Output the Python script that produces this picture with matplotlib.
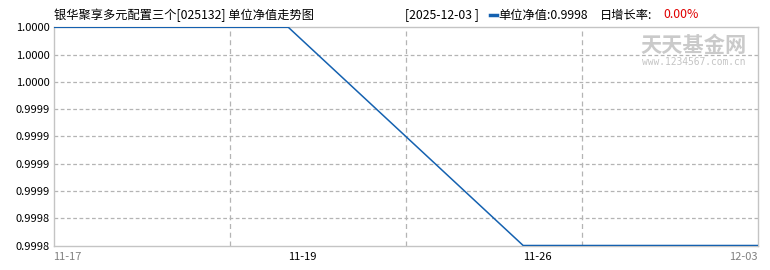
#!/usr/bin/env python3
import matplotlib
matplotlib.use("Agg")
import matplotlib.pyplot as plt
from matplotlib.lines import Line2D

plt.rcParams["font.family"] = ["Noto Sans CJK SC", "DejaVu Sans"]

# data
dates = ["11-17", "11-19", "11-26", "12-03"]
nav = [1.0000, 1.0000, 0.9998, 0.9998]
y_ticks = [0.9998, 0.999825, 0.99985, 0.999875, 0.9999, 0.999925, 0.99995, 0.999975, 1.0000]
y_tick_labels = ["0.9998", "0.9998", "0.9999", "0.9999", "0.9999", "0.9999", "1.0000", "1.0000", "1.0000"]
title = "银华聚享多元配置三个[025132] 单位净值走势图"
last_date = "[2025-12-03 ]"
last_nav = "0.9998"
last_growth = "0.00%"

W, H = 770, 270
BLUE = "#1461b0"
GRID = "#b4b4b4"
SPINE = "#c4c4c4"


def fx(px):
    return px / W


def fy(py):
    return 1 - py / H


fig = plt.figure(figsize=(W / 100, H / 100), dpi=100)
ax = fig.add_axes([fx(53.5), fy(245.5), fx(758) - fx(53.5), fy(27.3) - fy(245.5)])

x = list(range(len(dates)))
ax.plot(x, nav, color=BLUE, lw=1.1, zorder=3, solid_capstyle="butt")

ax.set_xlim(0, len(dates) - 1)
ax.set_ylim(y_ticks[0], y_ticks[-1])

# horizontal grid
for v in y_ticks[1:-1]:
    ax.axhline(v, color=GRID, lw=0.9, ls=(0, (3, 2)), zorder=1)
# vertical grid at quarters
for q in (0.25, 0.5, 0.75):
    ax.axvline(q * (len(dates) - 1), color=GRID, lw=0.9, ls=(0, (4, 3)), zorder=1)

for s in ax.spines.values():
    s.set_color(SPINE)
    s.set_linewidth(1.0)

ax.set_yticks(y_ticks)
ax.set_yticklabels(y_tick_labels, fontsize=8)
ax.tick_params(axis="y", length=0, pad=3)

ax.set_xticks(x)
ax.set_xticklabels(dates, fontsize=8)
ax.tick_params(axis="x", length=0, pad=5)
labels = ax.get_xticklabels()
for i, lab in enumerate(labels):
    if i == len(labels) - 1:
        lab.set_ha("right")
    else:
        lab.set_ha("left")
    lab.set_color("#808080" if i in (0, len(labels) - 1) else "black")

# watermark
ax.text(fx(694), fy(46), "天天基金网", transform=fig.transFigure, ha="center", va="center",
        fontsize=15.3, fontweight="bold", color="#cacaca", zorder=2)
ax.text(fx(694), fy(62), "www.1234567.com.cn", transform=fig.transFigure, ha="center",
        va="center", fontsize=6.9, family="DejaVu Sans Mono", color="#c4c4c4", zorder=2)

# header
fig.text(fx(54), fy(15), title, fontsize=8.8, ha="left", va="center")
fig.text(fx(405), fy(15), last_date, fontsize=8.8, ha="left", va="center")
fig.lines.append(Line2D([fx(490), fx(497)], [fy(15.5), fy(15.5)], transform=fig.transFigure,
                        color=BLUE, lw=2.5))
fig.text(fx(498), fy(15), "单位净值:" + last_nav, fontsize=8.8, ha="left", va="center")
fig.text(fx(600), fy(15), "日增长率:", fontsize=8.8, ha="left", va="center")
fig.text(fx(663), fy(15), last_growth, fontsize=8.8, ha="left", va="center", color="#e00000")

fig.savefig("out.png", dpi=100)
